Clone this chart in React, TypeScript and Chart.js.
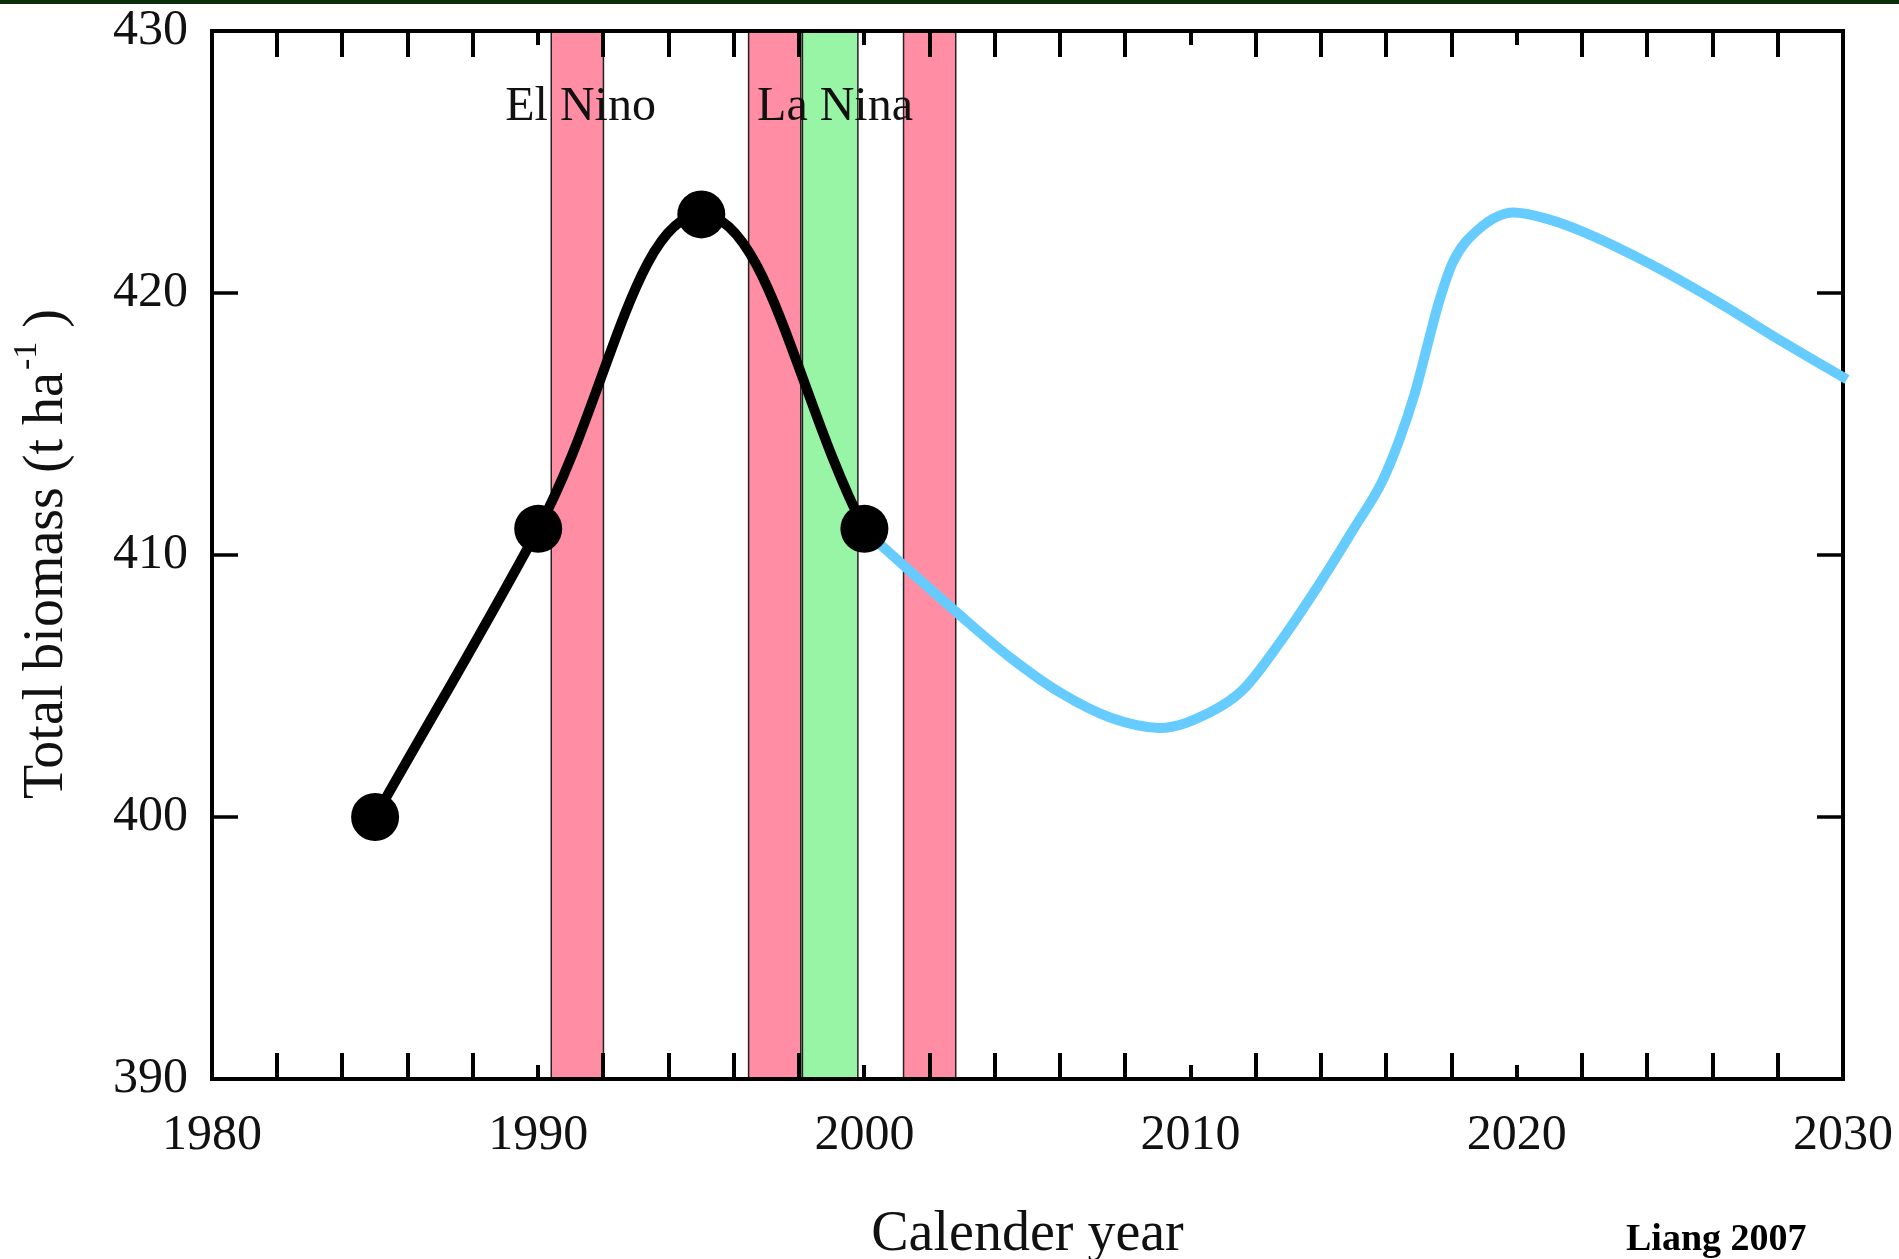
import { useEffect, useRef } from "react";
import { Chart, registerables } from "chart.js";

Chart.register(...registerables);

// Measured stand biomass (t ha-1) by calendar year
const observedYears = [1985, 1990, 1995, 2000];
const observedBiomass = [400, 411, 423, 411];

// Projected biomass trajectory after 2000
const projectedYears = [
  2000.08, 2002.84, 2004.46, 2006.0, 2007.53, 2009.06, 2010.6, 2011.6, 2012.7,
  2014.0, 2015.0, 2015.87, 2016.4, 2016.88, 2017.25, 2017.6, 2018.05, 2018.8,
  2019.9, 2021.0, 2022.0, 2024.1, 2026.1, 2028.2, 2030.12,
];
const projectedBiomass = [
  410.85, 407.8, 406.1, 404.75, 403.8, 403.4, 404.0, 404.85, 406.6, 409.0,
  411.0, 412.8, 414.4, 416.2, 417.95, 419.6, 421.2, 422.4, 423.07, 422.8,
  422.35, 421.1, 419.7, 418.1, 416.7,
];

// Axis ticks
const xTickYears = [1980, 1990, 2000, 2010, 2020, 2030];
const yTickValues = [390, 400, 410, 420, 430];

// ENSO event periods (calendar years)
const ensoStart = [1990.4, 1996.45, 1998.1, 2001.2];
const ensoEnd = [1992.0, 1998.05, 1999.8, 2002.8];
const ensoPhase = ["El Nino", "El Nino", "La Nina", "El Nino"];

// ENSO captions
const ensoLabels = ["El Nino", "La Nina"];
const ensoLabelYears = [1991.3, 1999.1];
const ensoLabelBiomass = [427.1, 427.1];

const SERIF = "'Liberation Serif', 'Times New Roman', serif";
const PHASE_COLORS: Record<string, string> = {
  "El Nino": "#FF8DA3",
  "La Nina": "#98F5A6",
};

const ensoBandsPlugin = {
  id: "ensoBands",
  beforeDatasetsDraw(chart: any) {
    const { ctx, chartArea } = chart;
    const xs = chart.scales.x;
    const ys = chart.scales.y;
    ctx.save();
    // shaded event periods
    ensoStart.forEach((s, i) => {
      const x0 = xs.getPixelForValue(s);
      const x1 = xs.getPixelForValue(ensoEnd[i]);
      ctx.fillStyle = PHASE_COLORS[ensoPhase[i]];
      ctx.fillRect(x0, chartArea.top, x1 - x0, chartArea.bottom - chartArea.top);
      ctx.strokeStyle = "#222";
      ctx.lineWidth = 1.5;
      ctx.strokeRect(x0, chartArea.top, x1 - x0, chartArea.bottom - chartArea.top);
    });

    // captions
    ctx.fillStyle = "#111";
    ctx.font = `48px ${SERIF}`;
    ctx.textAlign = "center";
    ctx.textBaseline = "middle";
    ensoLabels.forEach((t, i) => {
      ctx.fillText(
        t,
        xs.getPixelForValue(ensoLabelYears[i]),
        ys.getPixelForValue(ensoLabelBiomass[i])
      );
    });

    // frame
    const { left, right, top, bottom } = chartArea;
    ctx.strokeStyle = "#000";
    ctx.lineWidth = 4;
    ctx.strokeRect(left, top, right - left, bottom - top);

    // inward tick marks: every 2 years on top/bottom, labelled years shorter
    ctx.lineWidth = 4;
    ctx.beginPath();
    for (let yr = xs.min + 2; yr < xs.max; yr += 2) {
      const px = Math.round(xs.getPixelForValue(yr));
      const len = xTickYears.includes(yr) ? 14 : 26;
      ctx.moveTo(px, bottom);
      ctx.lineTo(px, bottom - len);
      ctx.moveTo(px, top);
      ctx.lineTo(px, top + len);
    }
    ctx.stroke();

    ctx.lineWidth = 3.5;
    ctx.beginPath();
    yTickValues.forEach((v) => {
      if (v === ys.min || v === ys.max) return;
      const py = Math.round(ys.getPixelForValue(v));
      ctx.moveTo(left, py);
      ctx.lineTo(left + 26, py);
      ctx.moveTo(right, py);
      ctx.lineTo(right - 26, py);
    });
    ctx.stroke();
    ctx.restore();
  },
};

const annotationTextPlugin = {
  id: "annotationText",
  afterDraw(chart: any) {
    const { ctx, chartArea } = chart;
    ctx.save();
    // rotated y-axis title with superscript unit
    const cy = (chartArea.top + chartArea.bottom) / 2;
    ctx.translate(47, cy);
    ctx.rotate(-Math.PI / 2);
    ctx.fillStyle = "#111";
    ctx.textBaseline = "middle";
    ctx.textAlign = "left";
    const main = "Total biomass (t ha";
    const sup = "-1";
    const tail = " )";
    const big = `56px ${SERIF}`;
    const small = `34px ${SERIF}`;
    ctx.font = big;
    const wMain = ctx.measureText(main).width;
    const wTail = ctx.measureText(tail).width;
    ctx.font = small;
    const wSup = ctx.measureText(sup).width;
    let x = -(wMain + wSup + wTail) / 2;
    ctx.font = big;
    ctx.fillText(main, x, 0);
    x += wMain;
    ctx.font = small;
    ctx.fillText(sup, x + 2, -20);
    x += wSup + 2;
    ctx.font = big;
    ctx.fillText(tail, x, 0);
    ctx.restore();

    // source credit
    ctx.save();
    ctx.fillStyle = "#000";
    ctx.font = `bold 38px ${SERIF}`;
    ctx.textAlign = "left";
    ctx.textBaseline = "alphabetic";
    ctx.fillText("Liang 2007", 1626, 1250);
    ctx.restore();
  },
};

export default function App() {
  const canvasRef = useRef<HTMLCanvasElement | null>(null);

  useEffect(() => {
    const canvas = canvasRef.current;
    if (!canvas) return;
    const chart = new Chart(canvas, {
      type: "line",
      data: {
        datasets: [
          {
            label: "Observed",
            data: observedYears.map((x, i) => ({ x, y: observedBiomass[i] })),
            borderColor: "#000",
            borderWidth: 10,
            pointRadius: 24,
            pointBackgroundColor: "#000",
            pointBorderColor: "#000",
            pointBorderWidth: 0,
            tension: 0.4,
            fill: false,
          },
          {
            label: "Projected",
            data: projectedYears.map((x, i) => ({ x, y: projectedBiomass[i] })),
            borderColor: "#66CCFF",
            borderWidth: 10,
            pointRadius: 0,
            cubicInterpolationMode: "monotone",
            fill: false,
            clip: 12,
          } as any,
        ],
      },
      options: {
        animation: false,
        responsive: false,
        devicePixelRatio: 1,
        events: [],
        layout: { padding: { top: 31, right: 56, left: 0, bottom: 0 } },
        plugins: {
          legend: { display: false },
          tooltip: { enabled: false },
          title: { display: false },
        },
        scales: {
          x: {
            type: "linear",
            min: 1980,
            max: 2030,
            afterBuildTicks: (s: any) => {
              s.ticks = xTickYears.map((v) => ({ value: v }));
            },
            afterFit: (s: any) => {
              s.height = 180;
              s.paddingLeft = 0;
              s.paddingRight = 0;
            },
            ticks: {
              autoSkip: false,
              maxRotation: 0,
              padding: 27,
              color: "#111",
              font: { family: SERIF, size: 50 },
              callback: (v: any) => String(v),
            },
            grid: { display: false, drawTicks: false },
            border: { display: false },
            title: {
              display: true,
              text: "Calender year",
              color: "#111",
              font: { family: SERIF, size: 56 },
              padding: { top: 0, bottom: -10 },
            },
          },
          y: {
            type: "linear",
            min: 390,
            max: 430,
            afterBuildTicks: (s: any) => {
              s.ticks = yTickValues.map((v) => ({ value: v }));
            },
            afterFit: (s: any) => {
              s.width = 212;
              s.paddingTop = 0;
              s.paddingBottom = 0;
            },
            ticks: {
              padding: 24,
              color: "#111",
              font: { family: SERIF, size: 50 },
              callback: (v: any) => String(v),
            },
            grid: { display: false, drawTicks: false },
            border: { display: false },
          },
        },
      },
      plugins: [ensoBandsPlugin, annotationTextPlugin],
    });
    return () => chart.destroy();
  }, []);

  return (
    <div
      style={{
        position: "fixed",
        left: 0,
        top: 0,
        width: 1899,
        height: 1259,
        background: "#fff",
        overflow: "hidden",
      }}
    >
      <div
        style={{
          position: "absolute",
          left: 0,
          top: 0,
          width: 1899,
          height: 4,
          background: "#0a2e0a",
          zIndex: 2,
        }}
      />
      <canvas
        ref={canvasRef}
        width={1899}
        height={1259}
        style={{ display: "block", width: 1899, height: 1259 }}
      />
    </div>
  );
}
